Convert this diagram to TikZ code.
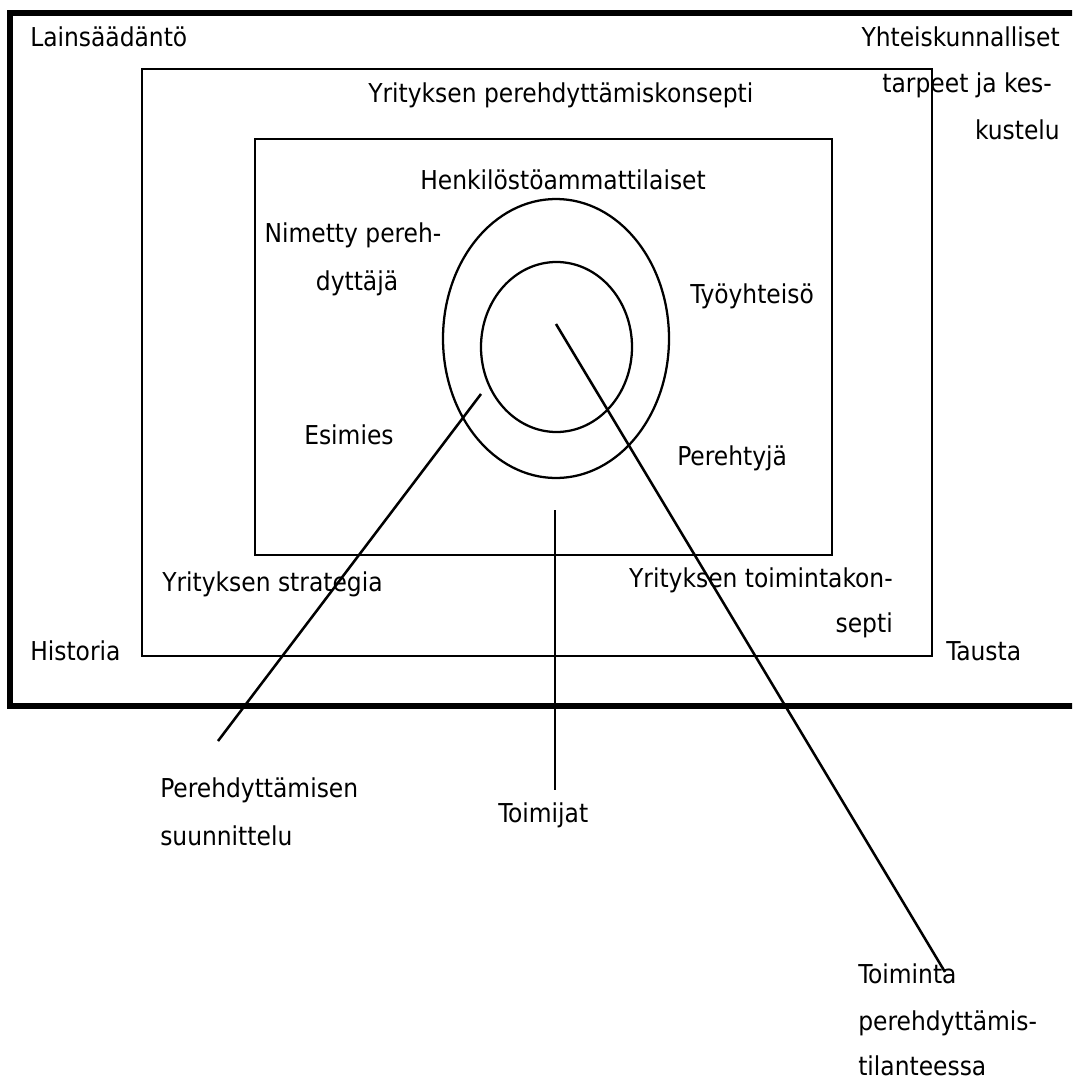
\documentclass[tikz,border=0pt]{standalone}
\usepackage{fontspec}
\setmainfont{DejaVu Sans Condensed}
\begin{document}
\begin{tikzpicture}[x=0.75pt,y=-0.75pt,
  lbl/.style={inner sep=0pt, font=\fontsize{19.5}{23}\selectfont},
  box/.style={draw, line width=1.7pt},
  ring/.style={draw, line width=1.7pt},
  conn/.style={draw, line width=1.9pt}]
\clip (0,0) rectangle (1072,1081);
\fill[white] (0,0) rectangle (1072,1081);
% frames
\draw[line width=3.9pt] (10,13) rectangle (1100,706);
\draw[box] (142,69) rectangle (932,656);
\draw[box] (255,139) rectangle (832,555);
% rings
\coordinate (oc) at (556,338.5);
\coordinate (ic) at (556.5,347);
\draw[ring] (oc) ellipse [x radius=113, y radius=139.5];
\draw[ring] (ic) ellipse [x radius=75.5, y radius=85];
% labels
\node[lbl, anchor=base west] (lain) at (30,47) {Lainsäädäntö};
\node[lbl, anchor=base east] (yht1) at (1060,47) {Yhteiskunnalliset};
\node[lbl, anchor=base east] (yht2) at (1052,93) {tarpeet ja kes-};
\node[lbl, anchor=base east] (yht3) at (1060,139) {kustelu};
\node[lbl, anchor=base west] (ypk) at (368,103) {Yrityksen perehdyttämiskonsepti};
\node[lbl, anchor=base west] (henk) at (420,189) {Henkilöstöammattilaiset};
\node[lbl, anchor=base] (nim1) at (353,242) {Nimetty pereh-};
\node[lbl, anchor=base] (nim2) at (357,290) {dyttäjä};
\node[lbl, anchor=base west] (tyo) at (690,303) {Työyhteisö};
\node[lbl, anchor=base west] (esi) at (304,444) {Esimies};
\node[lbl, anchor=base west] (pty) at (677,465) {Perehtyjä};
\node[lbl, anchor=base west] (ystr) at (162,591) {Yrityksen strategia};
\node[lbl, anchor=base east] (ytk1) at (893,587) {Yrityksen toimintakon-};
\node[lbl, anchor=base east] (ytk2) at (893,632) {septi};
\node[lbl, anchor=base west] (hist) at (30,660) {Historia};
\node[lbl, anchor=base west] (taus) at (946,660) {Tausta};
\node[lbl, anchor=base west] (pers1) at (160,797) {Perehdyttämisen};
\node[lbl, anchor=base west] (pers2) at (160,845) {suunnittelu};
\node[lbl, anchor=base west] (toimj) at (498,822) {Toimijat};
\node[lbl, anchor=base west] (toim1) at (858,983) {Toiminta};
\node[lbl, anchor=base west] (toim2) at (858,1030) {perehdyttämis-};
\node[lbl, anchor=base west] (toim3) at (858,1075) {tilanteessa};
% connectors
\coordinate (a1) at (481,394);
\coordinate (a2) at (218,741);
\coordinate (b1) at (556,324);
\coordinate (b2) at (945,972);
\coordinate (c1) at (555,510);
\coordinate (c2) at (555,790);
\draw[conn] (a1) -- (a2);
\draw[conn] (b1) -- (b2);
\draw[conn] (c1) -- (c2);
\end{tikzpicture}
\end{document}
